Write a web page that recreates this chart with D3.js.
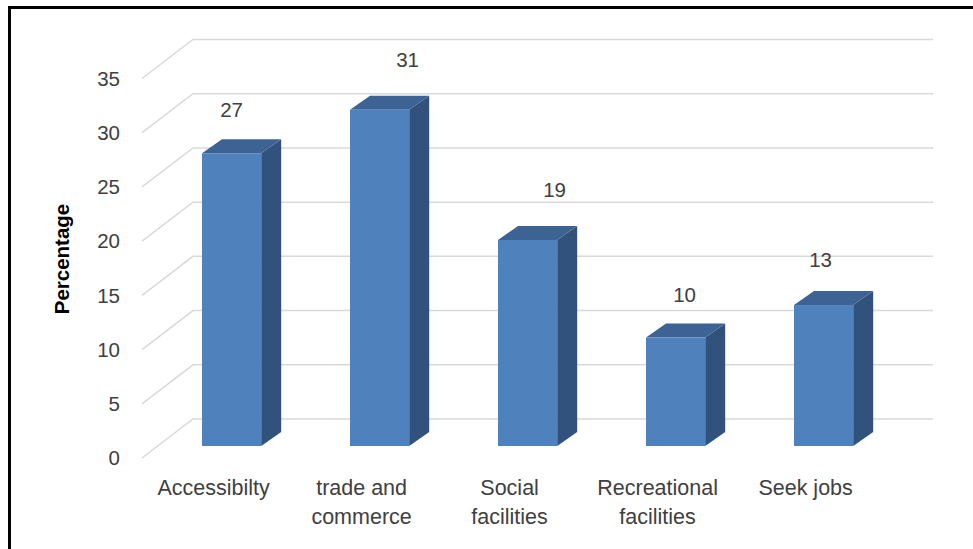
<!DOCTYPE html>
<html>
<head>
<meta charset="utf-8">
<script src="https://cdn.jsdelivr.net/npm/d3@7/dist/d3.min.js"></script>
<style>
html,body{margin:0;padding:0;background:#fff;}
svg{display:block;}
text{font-family:"Liberation Sans",Arial,sans-serif;fill:#404040;}
</style>
</head>
<body>
<script>
// ---- data ----
const categories = ["Accessibilty", "trade and\ncommerce", "Social\nfacilities", "Recreational\nfacilities", "Seek jobs"];
const values = [27, 31, 19, 10, 13];
const yTicks = [0, 5, 10, 15, 20, 25, 30, 35];
const yTitle = "Percentage";

// ---- layout (not data) ----
const W = 973, H = 549;
const labelNudge = [[0, -43], [28, -50], [27, -50], [9, -43], [-3, -45]];
const barDepth = {dx: 20, dy: -14};

const svg = d3.select("body").append("svg").attr("width", W).attr("height", H);
svg.append("rect").attr("width", W).attr("height", H).attr("fill", "#fff");

const y = d3.scaleLinear().domain([0, 35]).range([446, 66.5]);
const x = d3.scaleBand().domain(categories).range([157.6, 897.6]).paddingInner(0.6).paddingOuter(0.3);

// gridlines: front floor edge -> back wall
const frontX = 142, backX = 193, rightX = 933;
svg.append("g").selectAll("path").data(yTicks).join("path")
  .attr("d", v => `M${frontX},${y(v) + 12}L${backX},${y(v) - 27}L${rightX},${y(v) - 27}`)
  .attr("fill", "none").attr("stroke", "#d9d9d9").attr("stroke-width", 1.5);

// tick labels
svg.append("g").selectAll("text").data(yTicks).join("text")
  .attr("x", 120).attr("y", v => y(v) + 12).attr("dy", "0.35em")
  .attr("text-anchor", "end").style("font-size", "20.5px").text(v => v);

// bars
const bars = svg.append("g").selectAll("g").data(values).join("g");
bars.append("path") // side
  .attr("d", (v, i) => {
    const x1 = x(categories[i]) + x.bandwidth();
    return `M${x1},${y(v)}L${x1 + barDepth.dx},${y(v) + barDepth.dy}L${x1 + barDepth.dx},${y(0) + barDepth.dy}L${x1},${y(0)}Z`;
  }).attr("fill", "#31527c");
bars.append("path") // top
  .attr("d", (v, i) => {
    const x0 = x(categories[i]), x1 = x0 + x.bandwidth();
    return `M${x0},${y(v)}L${x0 + barDepth.dx},${y(v) + barDepth.dy}L${x1 + barDepth.dx},${y(v) + barDepth.dy}L${x1},${y(v)}Z`;
  }).attr("fill", "#3c6394");
bars.append("rect") // front
  .attr("x", (v, i) => x(categories[i])).attr("width", x.bandwidth())
  .attr("y", v => y(v)).attr("height", v => y(0) - y(v)).attr("fill", "#4f81bd");

// value labels
svg.append("g").selectAll("text").data(values).join("text")
  .attr("x", (v, i) => x(categories[i]) + x.bandwidth() / 2 + labelNudge[i][0])
  .attr("y", (v, i) => y(v) + labelNudge[i][1]).attr("dy", "0.35em")
  .attr("text-anchor", "middle").style("font-size", "20.5px").text(v => v);

// category labels
const cat = svg.append("g").selectAll("text").data(categories).join("text")
  .attr("x", c => x(c) + x.bandwidth() / 2 - 18).attr("y", 495)
  .attr("text-anchor", "middle").style("font-size", "21.5px");
cat.each(function(c) {
  const t = d3.select(this);
  c.split("\n").forEach((line, j) => {
    t.append("tspan").attr("x", t.attr("x")).attr("dy", j === 0 ? 0 : 29).text(line);
  });
});

// y title
svg.append("text").attr("transform", "translate(62,259) rotate(-90)")
  .attr("dy", "0.35em").attr("text-anchor", "middle")
  .style("font-size", "20.5px").style("font-weight", "bold").style("fill", "#000").text(yTitle);

// frame
svg.append("rect").attr("x", 9.5).attr("y", 7.5).attr("width", W + 20).attr("height", H + 20)
  .attr("fill", "none").attr("stroke", "#000").attr("stroke-width", 3);
</script>
</body>
</html>
